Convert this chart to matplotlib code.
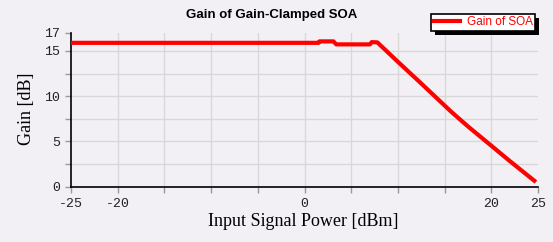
import matplotlib.pyplot as plt
from matplotlib.patches import Rectangle
from matplotlib.transforms import IdentityTransform

# data
power_dbm = [-25, 1.5, 1.6, 3.1, 3.4, 7.0, 7.2, 7.8, 10.0, 12.5, 15.7, 17.5, 19.9, 22.0, 24.6]
gain_db = [15.9, 15.9, 16.06, 16.06, 15.73, 15.73, 15.98, 15.95, 13.8, 11.4, 8.28, 6.65, 4.6, 2.8, 0.64]

xticks = [-25, -20, -15, -10, -5, 0, 5, 10, 15, 20, 25]
xticklabels = ['-25', '-20', '', '', '', '0', '', '', '', '20', '25']
yticks = [0, 2.5, 5, 7.5, 10, 12.5, 15, 17]
yticklabels = ['0', '', '5', '', '10', '', '15', '17']

bg = '#f2f0f4'
fig = plt.figure(figsize=(5.53, 2.42), dpi=100, facecolor=bg)
ax = fig.add_axes([71/553, 1-186.5/242, 467/553, 153.6/242], facecolor=bg)

ax.plot(power_dbm, gain_db, color='#ff0000', lw=3, label='Gain of SOA', zorder=3)

ax.set_xlim(-25, 25)
ax.set_ylim(0, 17)
ax.set_xticks(xticks)
ax.set_xticklabels(xticklabels, family='Liberation Mono', fontsize=9.5, color='#222222')
ax.set_yticks(yticks)
ax.set_yticklabels(yticklabels, family='Liberation Mono', fontsize=9.5, color='#222222')
ax.tick_params(direction='out', length=4, width=1, color='#999999', pad=4)

ax.grid(True, color='#d8d8d8', lw=1)
# no gridlines on the frame edges
for i in (0, len(xticks) - 1):
    ax.get_xgridlines()[i].set_visible(False)
ax.get_ygridlines()[0].set_visible(False)
ax.get_ygridlines()[-1].set_visible(False)

for s in ('top', 'right'):
    ax.spines[s].set_visible(False)
for s in ('left', 'bottom'):
    ax.spines[s].set_color('black')
    ax.spines[s].set_linewidth(1.2)

fig.text(271.5/553, 1-15/242, 'Gain of Gain-Clamped SOA', ha='center', va='center',
         family='Liberation Sans', fontweight='bold', fontsize=9.5)
fig.text(303.5/553, 1-221/242, 'Input Signal Power [dBm]', ha='center', va='center',
         family='Liberation Serif', fontsize=13)
fig.text(27/553, 1-109/242, 'Gain [dB]', ha='center', va='center', rotation=90,
         family='Liberation Serif', fontsize=13)

leg = ax.legend(loc='upper right', bbox_to_anchor=(535/553, 1-14/242),
                bbox_transform=fig.transFigure, borderaxespad=0,
                fancybox=False, edgecolor='black', facecolor='white', framealpha=1,
                prop={'family': 'Liberation Sans', 'size': 8.5}, labelcolor='#ff0000',
                handlelength=2.2, borderpad=0.2, handletextpad=0.6)
leg.get_frame().set_linewidth(1.2)
leg.set_zorder(6)

# solid black drop shadow behind the legend box
fig.canvas.draw()
bb = leg.get_frame().get_window_extent()
shadow = Rectangle((bb.x0 + 4, bb.y0 - 4), bb.width, bb.height, transform=IdentityTransform(),
                   facecolor='black', edgecolor='none', zorder=5, clip_on=False)
ax.add_artist(shadow)

fig.savefig('out.png', dpi=100, facecolor=bg)
